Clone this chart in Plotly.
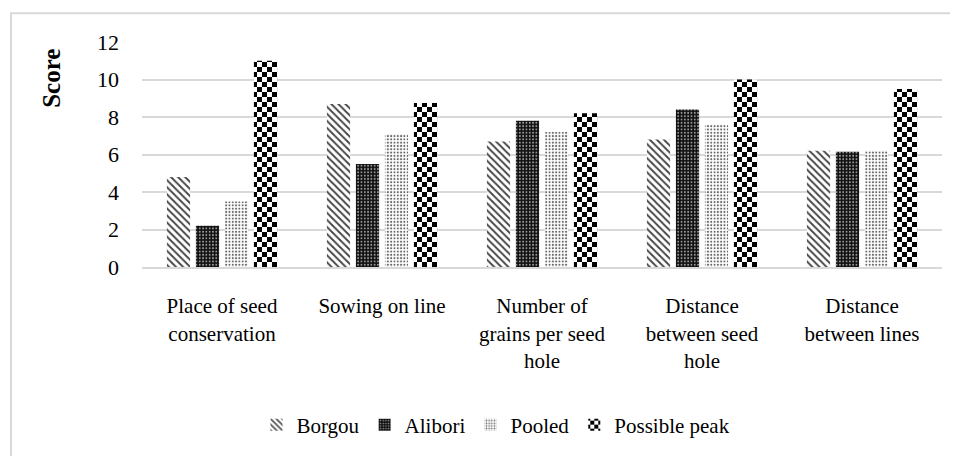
import plotly.graph_objects as go

categories = ["Place of seed<br>conservation", "Sowing on line", "Number of<br>grains per seed<br>hole",
              "Distance<br>between seed<br>hole", "Distance<br>between lines"]
borgou = [4.8, 8.7, 6.7, 6.8, 6.2]
alibori = [2.2, 5.5, 7.8, 8.4, 6.15]
pooled = [3.5, 7.1, 7.2, 7.6, 6.2]
peak = [11.0, 8.75, 8.2, 10.0, 9.5]
y_ticks = [0, 2, 4, 6, 8, 10, 12]

FONT = "Liberation Serif"
W, H = 950, 448
L, T = 134, 34          # plot-area top-left in figure coords (page offset 8px)
PW, PH = 800, 226

def px(xp):
    return (xp - 8 - L) / PW

def py(yp):
    return (T + PH - (yp - 8)) / PH

fig = go.Figure()
fig.add_trace(go.Bar(
    name="Borgou", x=categories, y=borgou,
    marker=dict(color="white", line=dict(width=0),
                pattern=dict(shape="\\", fgcolor="#444444", bgcolor="white", size=5, solidity=0.38, fillmode="replace")),
))
fig.add_trace(go.Bar(
    name="Alibori", x=categories, y=alibori,
    marker=dict(color="#111111", line=dict(width=0),
                pattern=dict(shape=".", fgcolor="#a0a0a0", bgcolor="#111111", size=3.3, solidity=0.25, fillmode="replace")),
))
fig.add_trace(go.Bar(
    name="Pooled", x=categories, y=pooled,
    marker=dict(color="white", line=dict(width=0),
                pattern=dict(shape=".", fgcolor="#666666", bgcolor="white", size=3.3, solidity=0.3, fillmode="replace")),
))
fig.add_trace(go.Bar(
    name="Possible peak", x=categories, y=peak,
    marker=dict(color="white", line=dict(width=0),
                pattern=dict(path="M0,0H5V5H0Z M5,5H10V10H5Z", fgcolor="black", bgcolor="white", size=10, solidity=1, fillmode="replace")),
))

fig.update_layout(
    width=W, height=H,
    margin=dict(l=L, r=W - L - PW, t=T, b=H - T - PH),
    paper_bgcolor="white", plot_bgcolor="white",
    font=dict(family=FONT, size=21, color="black"),
    barmode="group", bargap=0.275, bargroupgap=0.2,
    showlegend=True,
    legend=dict(orientation="h", x=px(496), xanchor="center", y=py(425), yanchor="middle",
                font=dict(family=FONT, size=21), itemwidth=30, tracegroupgap=0),
    xaxis=dict(showgrid=False, showline=True, linecolor="#d9d9d9", linewidth=2,
               ticks="", tickfont=dict(family=FONT, size=21), ticklabelstandoff=19, zeroline=False),
    yaxis=dict(range=[0, 12], tickvals=y_ticks, ticktext=[str(v) for v in y_ticks],
               showgrid=True, gridcolor="#d9d9d9", gridwidth=1.5, zeroline=False, showline=False,
               ticks="", tickfont=dict(family=FONT, size=22), ticklabelstandoff=22),
    annotations=[dict(text="<b>Score</b>", xref="paper", yref="paper",
                      x=px(52), y=py(79), showarrow=False, textangle=-90,
                      font=dict(family=FONT, size=25), xanchor="center", yanchor="middle")],
    shapes=[dict(type="rect", xref="paper", yref="paper",
                 x0=px(11), x1=px(975),
                 y0=py(470), y1=py(13),
                 line=dict(color="#d9d9d9", width=2), fillcolor="rgba(0,0,0,0)", layer="below")],
)

fig.write_html("out.html")
